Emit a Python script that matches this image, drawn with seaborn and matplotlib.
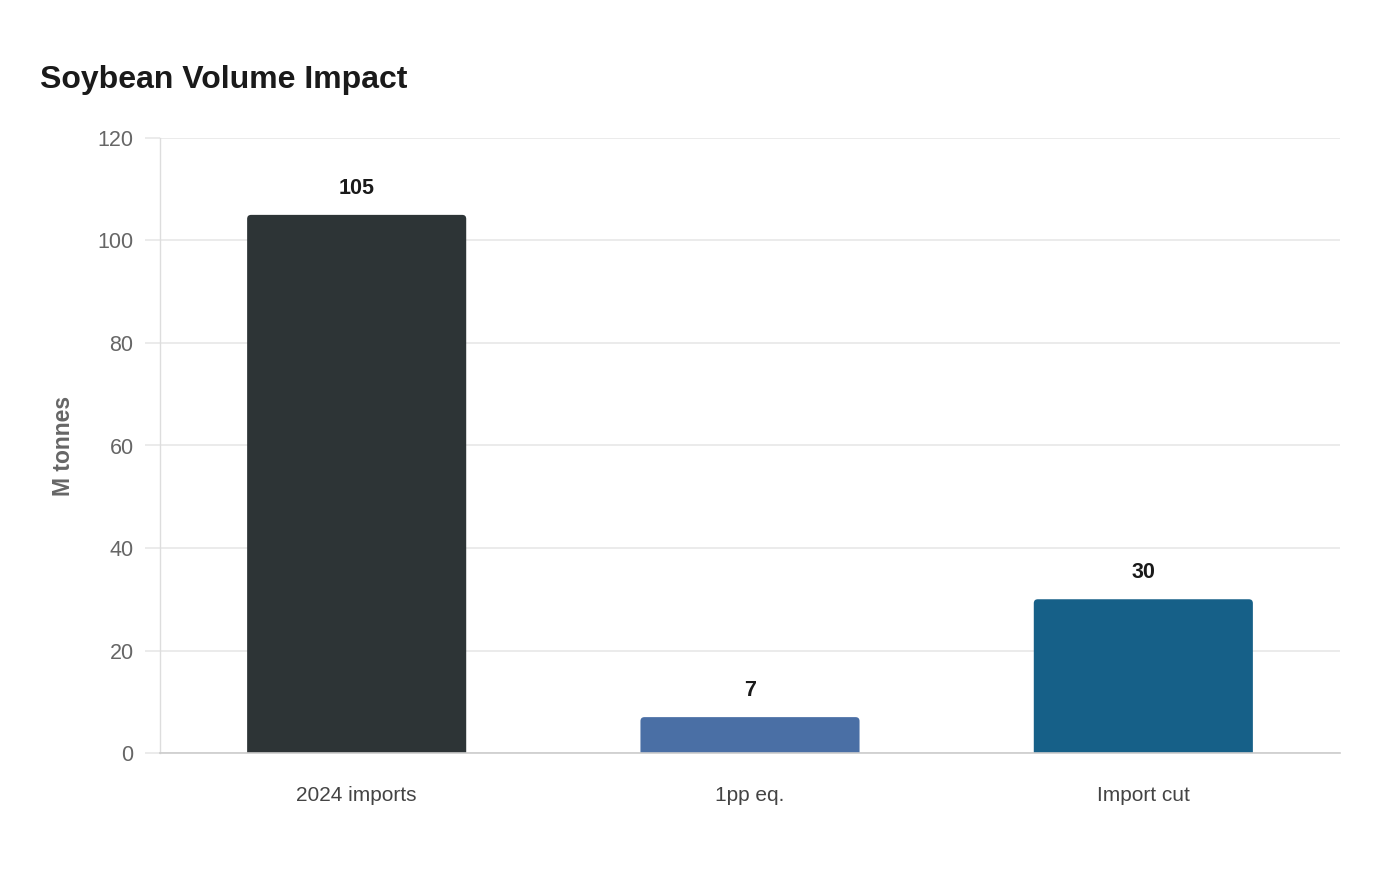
import pandas as pd
import seaborn as sns
import matplotlib.pyplot as plt
from matplotlib.patches import FancyBboxPatch

# Datos del gráfico
categorias = ['2024 imports', '1pp eq.', 'Import cut']
valores = [105, 7, 30]
colores = ['#2d3436', '#4a6fa5', '#166088']

df = pd.DataFrame({'cat': categorias, 'val': valores})

sns.set_theme(style="white")
plt.rcParams['font.family'] = ['Liberation Sans', 'DejaVu Sans']

fig = plt.figure(figsize=(14, 8.8), dpi=100)
ax = fig.add_axes([160 / 1400, 127 / 880, 1180 / 1400, 615 / 880])

sns.barplot(x='cat', y='val', data=df, hue='cat', palette=colores,
            width=0.557, saturation=1, legend=False, ax=ax)

ax.set_xlim(-0.5, 2.5)
ax.set_ylim(0, 120)

# Reemplazar barras por rectángulos con esquinas redondeadas
px_x = 1180 / 3.0      # píxeles por unidad en x
px_y = 615 / 120.0     # píxeles por unidad en y
radio = 4 / px_x
aspecto = px_x / px_y
for p in list(ax.patches):
    x0, w, h = p.get_x(), p.get_width(), p.get_height()
    color = p.get_facecolor()
    p.remove()
    ext = 5 / px_y
    caja = FancyBboxPatch((x0, -ext), w, h + ext,
                          boxstyle=f"round,pad=0,rounding_size={radio}",
                          mutation_aspect=aspecto, facecolor=color,
                          edgecolor='none', zorder=2, clip_on=True)
    ax.add_patch(caja)

# Etiquetas de valores
for i, v in enumerate(valores):
    ax.annotate(f"{v}", (i, v), xytext=(0, 19), textcoords='offset points',
                ha='center', va='center', fontsize=15.5, fontweight='bold',
                color='#1a1a1a')

ax.set_yticks(range(0, 121, 20))
ax.grid(axis='y', color='#e8e8e8', linewidth=1.2, zorder=0)
ax.set_axisbelow(True)
ax.tick_params(axis='y', left=True, length=11, color='#e8e8e8', width=1.2,
               pad=8, labelsize=15.5, labelcolor='#666666')
ax.tick_params(axis='x', bottom=False, length=0, pad=24, labelsize=15,
               labelcolor='#444444')

for s in ['top', 'right']:
    ax.spines[s].set_visible(False)
ax.spines['left'].set_color('#dddddd')
ax.spines['left'].set_linewidth(1)
ax.spines['bottom'].set_color('#cccccc')
ax.spines['bottom'].set_linewidth(1.2)
ax.spines['bottom'].set_zorder(3)

ax.set_xlabel('')
ax.set_ylabel('M tonnes', fontsize=16.5, fontweight='bold', color='#666666',
              labelpad=16)

fig.text(40 / 1400, 1 - 80 / 880, 'Soybean Volume Impact', fontsize=23,
         fontweight='bold', color='#1a1a1a', ha='left', va='center')

fig.savefig('out.png', dpi=100, facecolor='white')
